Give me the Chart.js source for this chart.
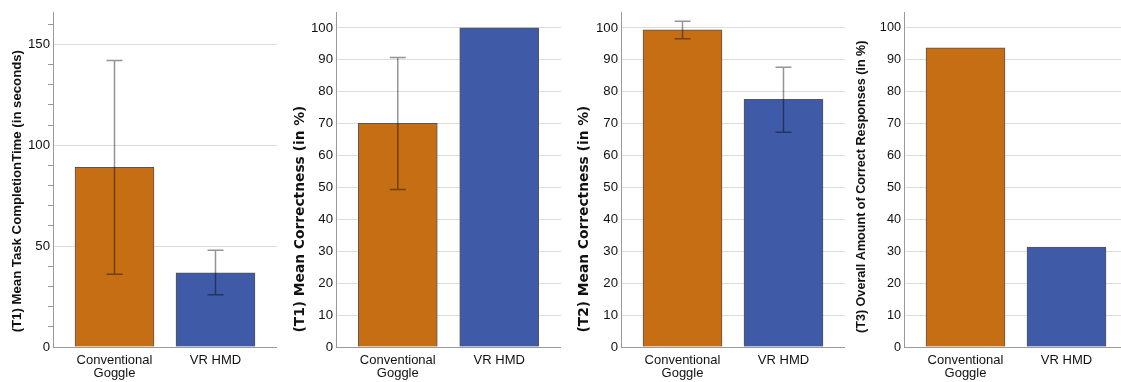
<!DOCTYPE html>
<html>
<head>
<meta charset="utf-8">
<script src="https://cdn.jsdelivr.net/npm/chart.js@4.4.1/dist/chart.umd.min.js"></script>
<style>
  html, body { margin: 0; padding: 0; background: #fff; }
  body { width: 1121px; height: 382px; position: relative; overflow: hidden; }
  .panel { position: absolute; top: 0; height: 382px; }
</style>
</head>
<body>
<div class="panel" style="left:9px"><canvas id="c1" width="268" height="382"></canvas></div>
<div class="panel" style="left:292px"><canvas id="c2" width="269" height="382"></canvas></div>
<div class="panel" style="left:576px"><canvas id="c3" width="269" height="382"></canvas></div>
<div class="panel" style="left:854px"><canvas id="c4" width="274" height="382"></canvas></div>
<script>
const categories = [["Conventional", "Goggle"], "VR HMD"];

// (T1) task completion time, seconds
const t1TimeMeans = [89.0, 36.8];
const t1TimeLow = [36.0, 25.9];
const t1TimeHigh = [142.0, 47.9];

// (T1) correctness, %
const t1CorrectMeans = [70.1, 100];
const t1CorrectLow = [49.4, null];
const t1CorrectHigh = [90.7, null];

// (T2) correctness, %
const t2CorrectMeans = [99.4, 77.6];
const t2CorrectLow = [96.6, 67.3];
const t2CorrectHigh = [102.1, 87.7];

// (T3) correct responses, %
const t3Responses = [93.8, 31.3];

const barColors = ["#C56E14", "#3F5BA8"];
const textColor = "#111111";
const axisColor = "#9a9a9a";
const gridColor = "#dcdcdc";
const fontFamily = "'Liberation Sans', Arial, sans-serif";

// draws the whiskers with the chart's own scales
const errorBars = {
    id: "errorBars",
    afterDatasetsDraw(chart, args, opts) {
        if (!opts.low) return;
        const meta = chart.getDatasetMeta(0);
        const y = chart.scales.y;
        const c = chart.ctx;
        c.save();
        c.strokeStyle = "rgba(0,0,0,0.42)";
        c.lineWidth = 1.5;
        meta.data.forEach((bar, i) => {
            if (opts.low[i] == null) return;
            const yl = y.getPixelForValue(opts.low[i]);
            const yh = y.getPixelForValue(opts.high[i]);
            c.beginPath();
            c.moveTo(bar.x, yl);
            c.lineTo(bar.x, yh);
            c.moveTo(bar.x - 8, yl);
            c.lineTo(bar.x + 8, yl);
            c.moveTo(bar.x - 8, yh);
            c.lineTo(bar.x + 8, yh);
            c.stroke();
        });
        c.restore();
    }
};

function makePanel(id, title, values, low, high, p) {
    const major = p.minorTicks ? 50 : 10;
    new Chart(document.getElementById(id), {
        type: "bar",
        data: {
            datasets: [{
                data: values.map((v, i) => ({ x: i, y: v })),
                backgroundColor: barColors,
                borderColor: "#555555",
                borderWidth: 1,
                barThickness: 79
            }]
        },
        plugins: [errorBars],
        options: {
            responsive: false,
            animation: false,
            layout: { padding: { top: 12, right: 0, bottom: 0, left: 0 } },
            plugins: {
                legend: { display: false },
                tooltip: { enabled: false },
                errorBars: { low: low, high: high }
            },
            scales: {
                x: {
                    type: "linear",
                    offset: false,
                    min: -0.609,
                    max: 1.609,
                    afterBuildTicks: (s) => { s.ticks = [{ value: 0 }, { value: 1 }]; },
                    afterFit: (s) => { s.height = 35; },
                    grid: { display: false, offset: false, drawTicks: false },
                    border: { display: true, color: axisColor, width: 1 },
                    ticks: {
                        autoSkip: false,
                        maxRotation: 0,
                        padding: 7,
                        color: textColor,
                        font: { family: fontFamily, size: 13, lineHeight: 1.0 },
                        callback: (v) => categories[v]
                    }
                },
                y: {
                    min: 0,
                    max: p.yMax,
                    afterFit: (s) => { s.width = p.axisW; },
                    border: { display: true, color: axisColor, width: 1 },
                    grid: {
                        color: (ctx) => (ctx.tick.value > 0 && ctx.tick.value % major === 0) ? gridColor : "rgba(0,0,0,0)",
                        drawTicks: p.minorTicks,
                        tickLength: 5,
                        tickColor: (ctx) => (ctx.tick.value > 0 && ctx.tick.value % major !== 0) ? axisColor : "rgba(0,0,0,0)"
                    },
                    ticks: {
                        stepSize: 10,
                        includeBounds: false,
                        padding: p.minorTicks ? -2 : 3,
                        color: textColor,
                        font: { family: p.tickFamily || fontFamily, size: p.tickSize },
                        callback: (v) => (v % major === 0) ? String(v) : ""
                    },
                    title: {
                        display: true,
                        text: p.lead + title,
                        align: "start",
                        color: textColor,
                        padding: 0,
                        font: { family: p.titleFamily || fontFamily, size: p.titleSize, weight: "bold" }
                    }
                }
            }
        }
    });
}

makePanel("c1", "(T1) Mean Task CompletionTime (in seconds)", t1TimeMeans, t1TimeLow, t1TimeHigh,
    { yMax: 166, axisW: 44, minorTicks: true, tickSize: 13.2, titleSize: 13.2, lead: "    ",
      tickFamily: "'Liberation Sans Narrow', 'Arial Narrow', 'Liberation Sans', sans-serif" });
makePanel("c2", "(T1) Mean Correctness (in %)", t1CorrectMeans, t1CorrectLow, t1CorrectHigh,
    { yMax: 105, axisW: 44, minorTicks: false, tickSize: 13.2, titleSize: 13.8, lead: "   ",
      titleFamily: "'DejaVu Sans', sans-serif" });
makePanel("c3", "(T2) Mean Correctness (in %)", t2CorrectMeans, t2CorrectLow, t2CorrectHigh,
    { yMax: 105, axisW: 45, minorTicks: false, tickSize: 13.2, titleSize: 13.8, lead: "   ",
      titleFamily: "'DejaVu Sans', sans-serif" });
makePanel("c4", "(T3) Overall Amount of Correct Responses (in %)", t3Responses, null, null,
    { yMax: 105, axisW: 50, minorTicks: false, tickSize: 12.7, titleSize: 12.6, lead: "    " });
</script>
</body>
</html>
